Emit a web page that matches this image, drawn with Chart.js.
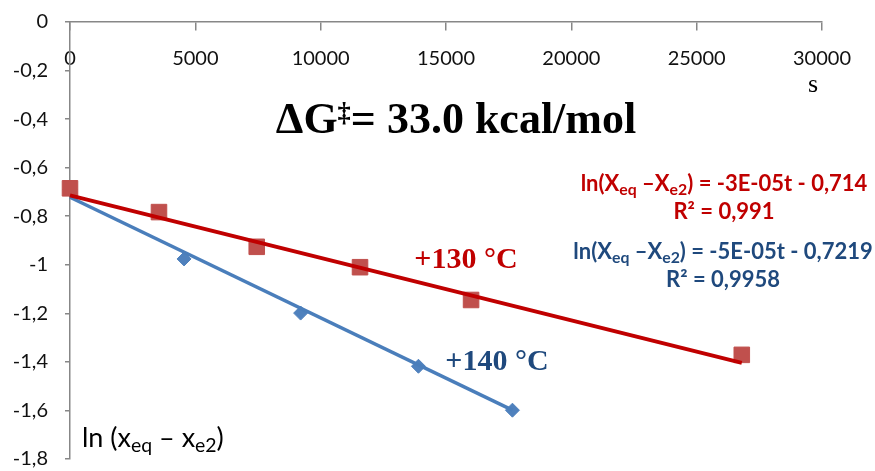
<!DOCTYPE html>
<html>
<head>
<meta charset="utf-8">
<script src="https://cdn.jsdelivr.net/npm/chart.js@4.4.1/dist/chart.umd.min.js"></script>
<style>
  html, body { margin: 0; padding: 0; background: #fff; }
  #wrap { width: 875px; height: 471px; position: relative; }
</style>
</head>
<body>
<div id="wrap"><canvas id="myChart" width="875" height="471"></canvas></div>
<script>
// time (s) and ln(x_eq - x_e2)
const t130 = [0, 3550, 7450, 11570, 16000, 26800];
const ln130 = [-0.685, -0.783, -0.926, -1.010, -1.145, -1.371];
const t140 = [0, 4550, 9200, 13900, 17650];
const ln140 = [-0.69, -0.976, -1.199, -1.418, -1.599];

// trend line ends
const fit130T = [0, 26800];
const fit130 = [-0.714, -1.404];
const fit140T = [0, 17650];
const fit140 = [-0.722, -1.599];

const xTickValues = [0, 5000, 10000, 15000, 20000, 25000, 30000];
const xTickLabels = ['0', '5000', '10000', '15000', '20000', '25000', '30000'];
const yTickValues = [0, -0.2, -0.4, -0.6, -0.8, -1, -1.2, -1.4, -1.6, -1.8];
const yTickLabels = ['0', '-0,2', '-0,4', '-0,6', '-0,8', '-1', '-1,2', '-1,4', '-1,6', '-1,8'];

const RED = '#C00000';
const RED_PT = '#C0504D';
const BLUE = '#4A7EBB';
const BLUE_PT = '#4F81BD';
const NAVY = '#1F497D';
const AXIS = '#878787';

function pts(xs, ys) {
    return xs.map((x, i) => ({x: x, y: ys[i]}));
}

// draws text pieces with sub / superscripts, centered on cx
function richText(ctx, parts, cx, base, size, family, weight, color, align) {
    ctx.save();
    ctx.fillStyle = color;
    ctx.textBaseline = 'alphabetic';
    ctx.textAlign = 'left';
    const sz = p => p.sub ? size * 0.72 : (p.sup ? size * 0.6 : size);
    let w = 0;
    parts.forEach(p => {
        ctx.font = weight + ' ' + sz(p) + 'px ' + family;
        p.w = ctx.measureText(p.t).width;
        w += p.w;
    });
    let x = align === 'left' ? cx : cx - w / 2;
    parts.forEach(p => {
        ctx.font = weight + ' ' + sz(p) + 'px ' + family;
        let y = base;
        if (p.sub) y += size * 0.2;
        if (p.sup) y -= size * 0.27;
        ctx.fillText(p.t, x, y);
        x += p.w;
    });
    ctx.restore();
}

const labelsPlugin = {
    id: 'labels',
    afterDraw(chart) {
        const ctx = chart.ctx;
        const serif = '"Liberation Serif", "DejaVu Serif", serif';
        const sans = 'Lato, "Open Sans", sans-serif';

        richText(ctx, [{t: '\u0394G'}, {t: '\u2021', sup: true}, {t: '= 33.0 kcal/mol'}],
            456, 133, 44, serif, 'bold', '#000');

        richText(ctx, [{t: '+130 \u00B0C'}], 466, 268, 30, serif, 'bold', RED);
        richText(ctx, [{t: '+140 \u00B0C'}], 497, 370, 30, serif, 'bold', NAVY);

        richText(ctx, [{t: 'ln(X'}, {t: 'eq', sub: true}, {t: ' \u2013X'}, {t: 'e2', sub: true},
            {t: ') = -3E-05t - 0,714'}], 724, 191, 22, sans, 'bold', RED);
        richText(ctx, [{t: 'R\u00B2 = 0,991'}], 724, 219, 22, sans, 'bold', RED);

        richText(ctx, [{t: 'ln(X'}, {t: 'eq', sub: true}, {t: ' \u2013X'}, {t: 'e2', sub: true},
            {t: ') = -5E-05t - 0,7219'}], 723, 259, 22, sans, 'bold', NAVY);
        richText(ctx, [{t: 'R\u00B2 = 0,9958'}], 723, 287, 22, sans, 'bold', NAVY);

        richText(ctx, [{t: 's'}], 813, 92, 26, serif, 'normal', '#000');

        richText(ctx, [{t: 'ln (x'}, {t: 'eq', sub: true}, {t: ' \u2013 x'}, {t: 'e2', sub: true}, {t: ')'}],
            82, 447, 27, sans, 'normal', '#000', 'left');
    }
};

const ctx = document.getElementById('myChart').getContext('2d');

const myChart = new Chart(ctx, {
    type: 'scatter',
    data: {
        datasets: [
            {
                label: 'fit 130',
                data: pts(fit130T, fit130),
                showLine: true,
                borderColor: RED,
                borderWidth: 4,
                pointRadius: 0,
                clip: false,
                order: 0
            },
            {
                label: 'fit 140',
                data: pts(fit140T, fit140),
                showLine: true,
                borderColor: BLUE,
                borderWidth: 3.5,
                pointRadius: 0,
                clip: false,
                order: 1
            },
            {
                label: '+130 °C',
                data: pts(t130, ln130),
                pointStyle: 'rect',
                pointRadius: 11,
                backgroundColor: RED_PT,
                borderColor: RED_PT,
                borderWidth: 1,
                clip: false,
                order: 2
            },
            {
                label: '+140 °C',
                data: pts(t140, ln140),
                pointStyle: 'rectRot',
                pointRadius: 7,
                backgroundColor: BLUE_PT,
                borderColor: BLUE_PT,
                borderWidth: 1,
                clip: false,
                order: 3
            }
        ]
    },
    options: {
        responsive: false,
        animation: false,
        layout: { padding: { left: 0, right: 53, top: 22, bottom: 9 } },
        plugins: {
            legend: { display: false },
            tooltip: { enabled: false }
        },
        elements: { line: { tension: 0 } },
        scales: {
            x: {
                type: 'linear',
                position: { y: 0 },
                min: 0,
                max: 30000,
                afterBuildTicks: s => { s.ticks = xTickValues.map(v => ({value: v})); },
                afterFit: s => { s.paddingLeft = 0; s.paddingRight = 0; },
                ticks: {
                    callback: (v, i) => xTickLabels[i],
                    color: '#111',
                    font: { family: 'Lato', size: 20 },
                    padding: 17,
                    maxRotation: 0,
                    autoSkip: false
                },
                grid: { drawOnChartArea: false, color: AXIS, tickLength: 8, lineWidth: 1.5 },
                border: { color: AXIS, width: 1.5 }
            },
            y: {
                type: 'linear',
                position: 'left',
                min: -1.8,
                max: 0,
                afterBuildTicks: s => { s.ticks = yTickValues.map(v => ({value: v})); },
                afterFit: s => { s.width = 70; s.paddingTop = 0; s.paddingBottom = 0; },
                ticks: {
                    callback: (v, i) => yTickLabels[i],
                    color: '#111',
                    font: { family: 'Lato', size: 20 },
                    padding: 17,
                    autoSkip: false
                },
                grid: { drawOnChartArea: false, color: AXIS, tickLength: 5, lineWidth: 1.5 },
                border: { color: AXIS, width: 1.5 }
            }
        }
    },
    plugins: [labelsPlugin]
});
</script>
</body>
</html>
